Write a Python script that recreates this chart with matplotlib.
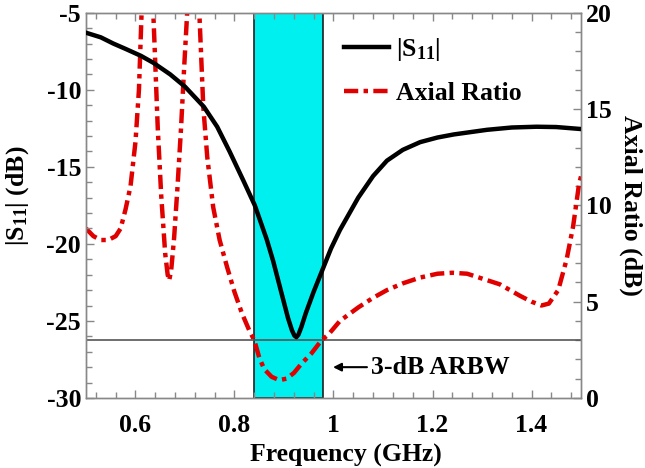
import matplotlib
matplotlib.use("Agg")
import matplotlib.pyplot as plt
from matplotlib.ticker import MultipleLocator

plt.rcParams['font.family'] = ['Liberation Serif', 'DejaVu Serif']
plt.rcParams['font.weight'] = 'bold'
plt.rcParams['axes.unicode_minus'] = False
plt.rcParams['mathtext.fontset'] = 'custom'
plt.rcParams['mathtext.rm'] = 'Liberation Serif:bold'
plt.rcParams['mathtext.it'] = 'Liberation Serif:bold'
plt.rcParams['mathtext.bf'] = 'Liberation Serif:bold'

# |S11| (dB)
s11_freq = [0.50, 0.53, 0.555, 0.58, 0.611, 0.636, 0.67, 0.70, 0.738, 0.765, 0.79,
            0.818, 0.841, 0.865, 0.878, 0.895, 0.908, 0.916, 0.921, 0.925, 0.929,
            0.935, 0.944, 0.96, 0.975, 0.995, 1.013, 1.05, 1.08, 1.108, 1.14,
            1.175, 1.21, 1.243, 1.31, 1.36, 1.41, 1.45, 1.50]
s11_db = [-6.3, -6.6, -7.0, -7.35, -7.8, -8.25, -9.0, -9.8, -11.1, -12.4, -14.0,
          -15.9, -17.5, -19.7, -21.1, -23.2, -24.8, -25.6, -25.95, -26.05, -25.9,
          -25.4, -24.5, -23.1, -21.9, -20.3, -19.1, -17.0, -15.6, -14.6, -13.9,
          -13.4, -13.1, -12.9, -12.6, -12.45, -12.4, -12.42, -12.55]

# Axial ratio (dB)
ar_freq = [0.50, 0.515, 0.53, 0.545, 0.56, 0.57, 0.58, 0.59, 0.60, 0.607, 0.613,
           0.62, 0.630, 0.636, 0.645, 0.652, 0.660, 0.665, 0.668, 0.672, 0.678,
           0.685, 0.692, 0.698, 0.704, 0.71, 0.72, 0.729, 0.737, 0.745, 0.757,
           0.770, 0.785, 0.80, 0.815, 0.83, 0.84, 0.85, 0.86, 0.875, 0.89, 0.905,
           0.92, 0.936, 0.955, 0.976, 0.99, 1.013, 1.05, 1.08, 1.108, 1.14, 1.175,
           1.21, 1.24, 1.27, 1.30, 1.336, 1.377, 1.40, 1.42, 1.435, 1.454, 1.471,
           1.484, 1.496, 1.50]
ar_db = [8.8, 8.4, 8.2, 8.2, 8.4, 8.8, 9.8, 11.0, 13.3, 16.0, 20.5,
         24.0, 23.0, 20.0, 14.0, 10.5, 7.5, 6.4, 6.1, 6.6, 8.3,
         11.0, 14.0, 17.0, 19.8, 23.0, 24.0, 20.0, 15.1, 12.5, 9.9,
         8.2, 6.8, 5.5, 4.4, 3.5, 3.0, 2.1, 1.5, 1.1, 0.93, 1.0,
         1.3, 1.8, 2.3, 3.0, 3.3, 4.0, 4.7, 5.2, 5.6, 5.95, 6.25,
         6.45, 6.5, 6.45, 6.2, 5.9, 5.3, 5.0, 4.8, 4.9, 5.6, 7.2,
         8.9, 11.1, 11.5]

band = [0.84, 0.978]
ar_threshold = 3.0

FS = 18.5

fig = plt.figure(figsize=(6.45, 4.68), dpi=100)
ax = fig.add_axes([0.1333, 0.1496, 0.7675, 0.8233])
ax2 = ax.twinx()

ax2.axvspan(band[0], band[1], facecolor='#00F0F0', edgecolor='#202020', lw=1.2, zorder=1)
ax2.axhline(ar_threshold, color='#555555', lw=1.2, zorder=2)
ax2.plot(ar_freq, ar_db, color='#E00000', lw=3.2, dashes=(3.2, 1.2, 1.0, 1.2),
         label='Axial Ratio', zorder=3)
ax.plot(s11_freq, s11_db, color='black', lw=3.2, label='|S$_{11}$|', zorder=4)

ax.set_xlim(0.5, 1.5)
ax.set_ylim(-30, -5)
ax2.set_ylim(0, 20)

ax.set_zorder(ax2.get_zorder() + 1)
ax.patch.set_visible(False)

ax.xaxis.set_minor_locator(MultipleLocator(0.04))
ax.yaxis.set_major_locator(MultipleLocator(5))
ax.yaxis.set_minor_locator(MultipleLocator(1))
ax2.yaxis.set_major_locator(MultipleLocator(5))
ax2.yaxis.set_minor_locator(MultipleLocator(1))

ax.set_xticks([0.6, 0.8, 1.0, 1.2, 1.4])
ax.set_xticklabels(['0.6', '0.8', '1', '1.2', '1.4'])

for a in (ax, ax2):
    for s in a.spines.values():
        s.set_color('#888888')
        s.set_linewidth(1.0)
ax.tick_params(axis='both', which='major', direction='in', length=6, width=1,
               color='#888888', labelsize=FS, top=True, right=False)
ax.tick_params(axis='both', which='minor', direction='in', length=4, width=1,
               color='#888888', top=True, right=False)
ax2.tick_params(axis='y', which='major', direction='in', length=6, width=1,
                color='#888888', labelsize=FS)
ax2.tick_params(axis='y', which='minor', direction='in', length=4, width=1,
                color='#888888')
ax.tick_params(axis='x', pad=11.5)

ax.set_xlabel('Frequency (GHz)', fontsize=FS, fontweight='bold', labelpad=5)
ax.xaxis.label.set_x(0.525)
ax.set_ylabel('|S$_{11}$| (dB)', fontsize=FS, fontweight='bold', labelpad=11)
ax.yaxis.label.set_y(0.524)
ax2.set_ylabel('Axial Ratio (dB)', fontsize=FS, fontweight='bold', rotation=270,
               labelpad=22)

h1, l1 = ax.get_legend_handles_labels()
h2, l2 = ax2.get_legend_handles_labels()
leg = ax.legend(h1 + h2, l1 + l2, loc='upper left', bbox_to_anchor=(0.505, 0.96),
                frameon=False, fontsize=FS, handlelength=1.75, handletextpad=0.3,
                labelspacing=0.75, borderaxespad=0, borderpad=0.3)

ax.annotate('3-dB ARBW', xy=(0.999, -28.0), xytext=(1.076, -28.0),
            fontsize=FS, fontweight='bold', va='center', ha='left',
            arrowprops=dict(arrowstyle='-|>', color='black', lw=1.5,
                            mutation_scale=12, shrinkA=1, shrinkB=0))

fig.savefig('out.png', dpi=100)
